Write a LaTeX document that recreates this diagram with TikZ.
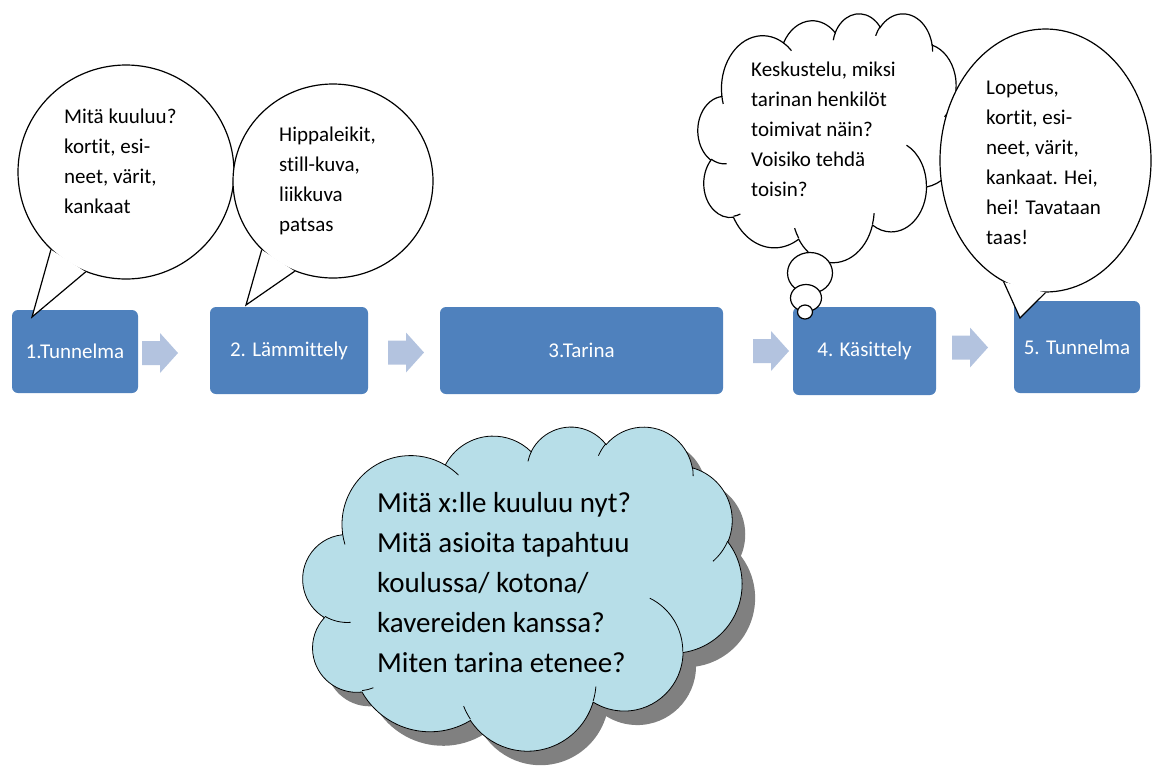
\documentclass[tikz,border=0pt]{standalone}
\usepackage{fontspec}
\setmainfont{Carlito}[Ligatures={NoCommon}]
\usetikzlibrary{shapes.geometric}

\definecolor{stagefill}{HTML}{4F81BD}
\definecolor{flowfill}{HTML}{B3C3DF}
\definecolor{skyfill}{HTML}{B7DEE8}
\definecolor{shadowgray}{HTML}{808080}

% one puff of the cloud: x radius, y radius, start angle, sweep
\newcommand\puff[4]{arc[start angle={atan2(#1*sin(#3),#2*cos(#3))},
  delta angle={mod(atan2(#1*sin(#3+#4),#2*cos(#3+#4))-atan2(#1*sin(#3),#2*cos(#3))+720,360)},
  x radius=#1, y radius=#2]}
% cloud on a 432 x 432 grid, y downwards
\newcommand\cloudrim{(39.00,143.70)
  \puff{67.53}{91.90}{-190.4875}{123.7805}
  \puff{53.33}{72.67}{-144.1024}{89.9452}
  \puff{43.65}{59.45}{-145.8079}{99.7230}
  \puff{48.57}{65.95}{-130.9861}{117.2417}
  \puff{53.33}{72.73}{-78.7089}{109.0269}
  \puff{67.75}{92.20}{-46.2673}{130.2690}
  \puff{57.85}{78.67}{0.6250}{114.0333}
  \puff{67.52}{92.15}{22.4516}{115.1726}
  \puff{77.20}{105.43}{66.2426}{75.7110}
  \puff{43.60}{59.18}{-274.9421}{146.7356}
  \puff{43.45}{59.45}{-246.8285}{152.5189} -- cycle}
\newcommand\cloudfolds{(46.93,261.77) \puff{43.45}{59.45}{86.7420}{26.4295}
  (69.28,348.99) \puff{43.60}{59.18}{73.6105}{11.4475}
  (164.78,390.90) \puff{67.52}{92.15}{137.6242}{14.0811}
  (288.27,347.51) \puff{67.52}{92.15}{6.4533}{15.9984}
  (341.29,229.54) \puff{57.85}{78.67}{-70.2924}{70.9174}
  (417.98,153.54) \puff{53.33}{72.73}{30.3180}{27.7515}
  (383.24,54.26) \puff{48.57}{65.95}{-13.7443}{14.8589}
  (290.78,39.52) \puff{48.57}{65.95}{-149.1815}{18.1954}
  (221.41,47.20) \puff{43.65}{59.45}{-163.4943}{17.6864}
  (140.00,51.92) \puff{67.53}{91.90}{-66.7070}{12.3194}
  (41.27,157.89) \puff{67.53}{91.90}{157.6544}{11.8582}}

\tikzset{
  stage/.style={rectangle, rounded corners=6pt, fill=stagefill, text=white,
    inner sep=0pt, font=\fontsize{21}{25}\selectfont},
  bubble/.style={ellipse, draw, fill=white, line width=1.2pt, inner sep=0pt},
  note/.style={anchor=north west, align=left, inner sep=0pt,
    font=\fontsize{21}{30}\selectfont},
  flow/.pic={\fill[flowfill] (0,12) -- (18,12) -- (18,20) -- (36,0)
    -- (18,-20) -- (18,-12) -- (0,-12) -- cycle;}
}

\begin{document}
\begin{tikzpicture}[x=1pt, y=1pt]
\useasboundingbox (0,0) rectangle (1154,-772);

% the five stages
\node[stage, minimum width=126, minimum height=83] (s1) at (75,-351.5) {1.Tunnelma};
\node[stage, minimum width=158, minimum height=87] (s2) at (289,-350.5) {2. Lämmittely};
\node[stage, minimum width=283, minimum height=87] (s3) at (581.5,-350.5) {3.Tarina};
\node[stage, minimum width=143, minimum height=88] (s4) at (864.5,-351) {4. Käsittely};
\node[stage, minimum width=126, minimum height=92] (s5) at (1077,-347) {5. Tunnelma};
\pic (f1) at (142,-353) {flow};
\pic (f2) at (388,-352.5) {flow};
\pic (f3) at (753,-351) {flow};
\pic (f4) at (952,-347.5) {flow};

% speech bubbles
\node[bubble, minimum width=216, minimum height=214] (b1) at (126,-172) {};
\coordinate (tip1) at (32,-317);
\fill[white] (b1.226.5) -- (tip1) -- (b1.248) -- cycle;
\draw[line width=1.2pt] (b1.226.5) -- (tip1) -- (b1.248);
\node[note] at (64,-109) {Mitä kuuluu?\\kortit, esi-\\neet, värit,\\kankaat};

\node[bubble, minimum width=200, minimum height=194] (b2) at (333,-181) {};
\coordinate (tip2) at (246,-305);
\fill[white] (b2.224.6) -- (tip2) -- (b2.247.1) -- cycle;
\draw[line width=1.2pt] (b2.224.6) -- (tip2) -- (b2.247.1);
\node[note] at (279,-127) {Hippaleikit,\\still-kuva,\\liikkuva\\patsas};

% thought cloud
\begin{scope}[shift={(698,-13)}, x=0.611pt, y=-0.576pt]
\draw[line width=1.2pt, fill=white] \cloudrim;
\draw[line width=1.2pt] \cloudfolds;
\end{scope}
\node[bubble, minimum width=45, minimum height=41] (d1) at (810,-273) {};
\node[bubble, minimum width=31, minimum height=27] (d2) at (806,-298) {};
\node[bubble, minimum width=15, minimum height=14] (d3) at (805,-312) {};
\node[note] at (751,-62) {Keskustelu, miksi\\tarinan henkilöt\\toimivat näin?\\Voisiko tehdä\\toisin?};

\node[bubble, minimum width=211, minimum height=263] (b5) at (1045.5,-160.5) {};
\coordinate (tip5) at (1020,-318);
\fill[white] (b5.251.6) -- (tip5) -- (b5.270.2) -- cycle;
\draw[line width=1.2pt] (b5.251.6) -- (tip5) -- (b5.270.2);
\node[note] at (986,-81) {Lopetus,\\kortit, esi-\\neet, värit,\\kankaat. Hei,\\hei! Tavataan\\taas!};

% big cloud with shadow
\begin{scope}[shift={(303,-426)}, x=1.016pt, y=-0.75pt]
\fill[shadowgray, xshift=13pt, yshift=-14pt] \cloudrim;
\draw[line width=0.8pt, fill=skyfill] \cloudrim;
\draw[line width=0.8pt] \cloudfolds;
\end{scope}
\node[note, font=\fontsize{29}{40}\selectfont] at (377,-492) {Mitä x:lle kuuluu nyt?\\Mitä asioita tapahtuu\\koulussa/ kotona/\\kavereiden kanssa?\\Miten tarina etenee?};
\end{tikzpicture}
\end{document}
